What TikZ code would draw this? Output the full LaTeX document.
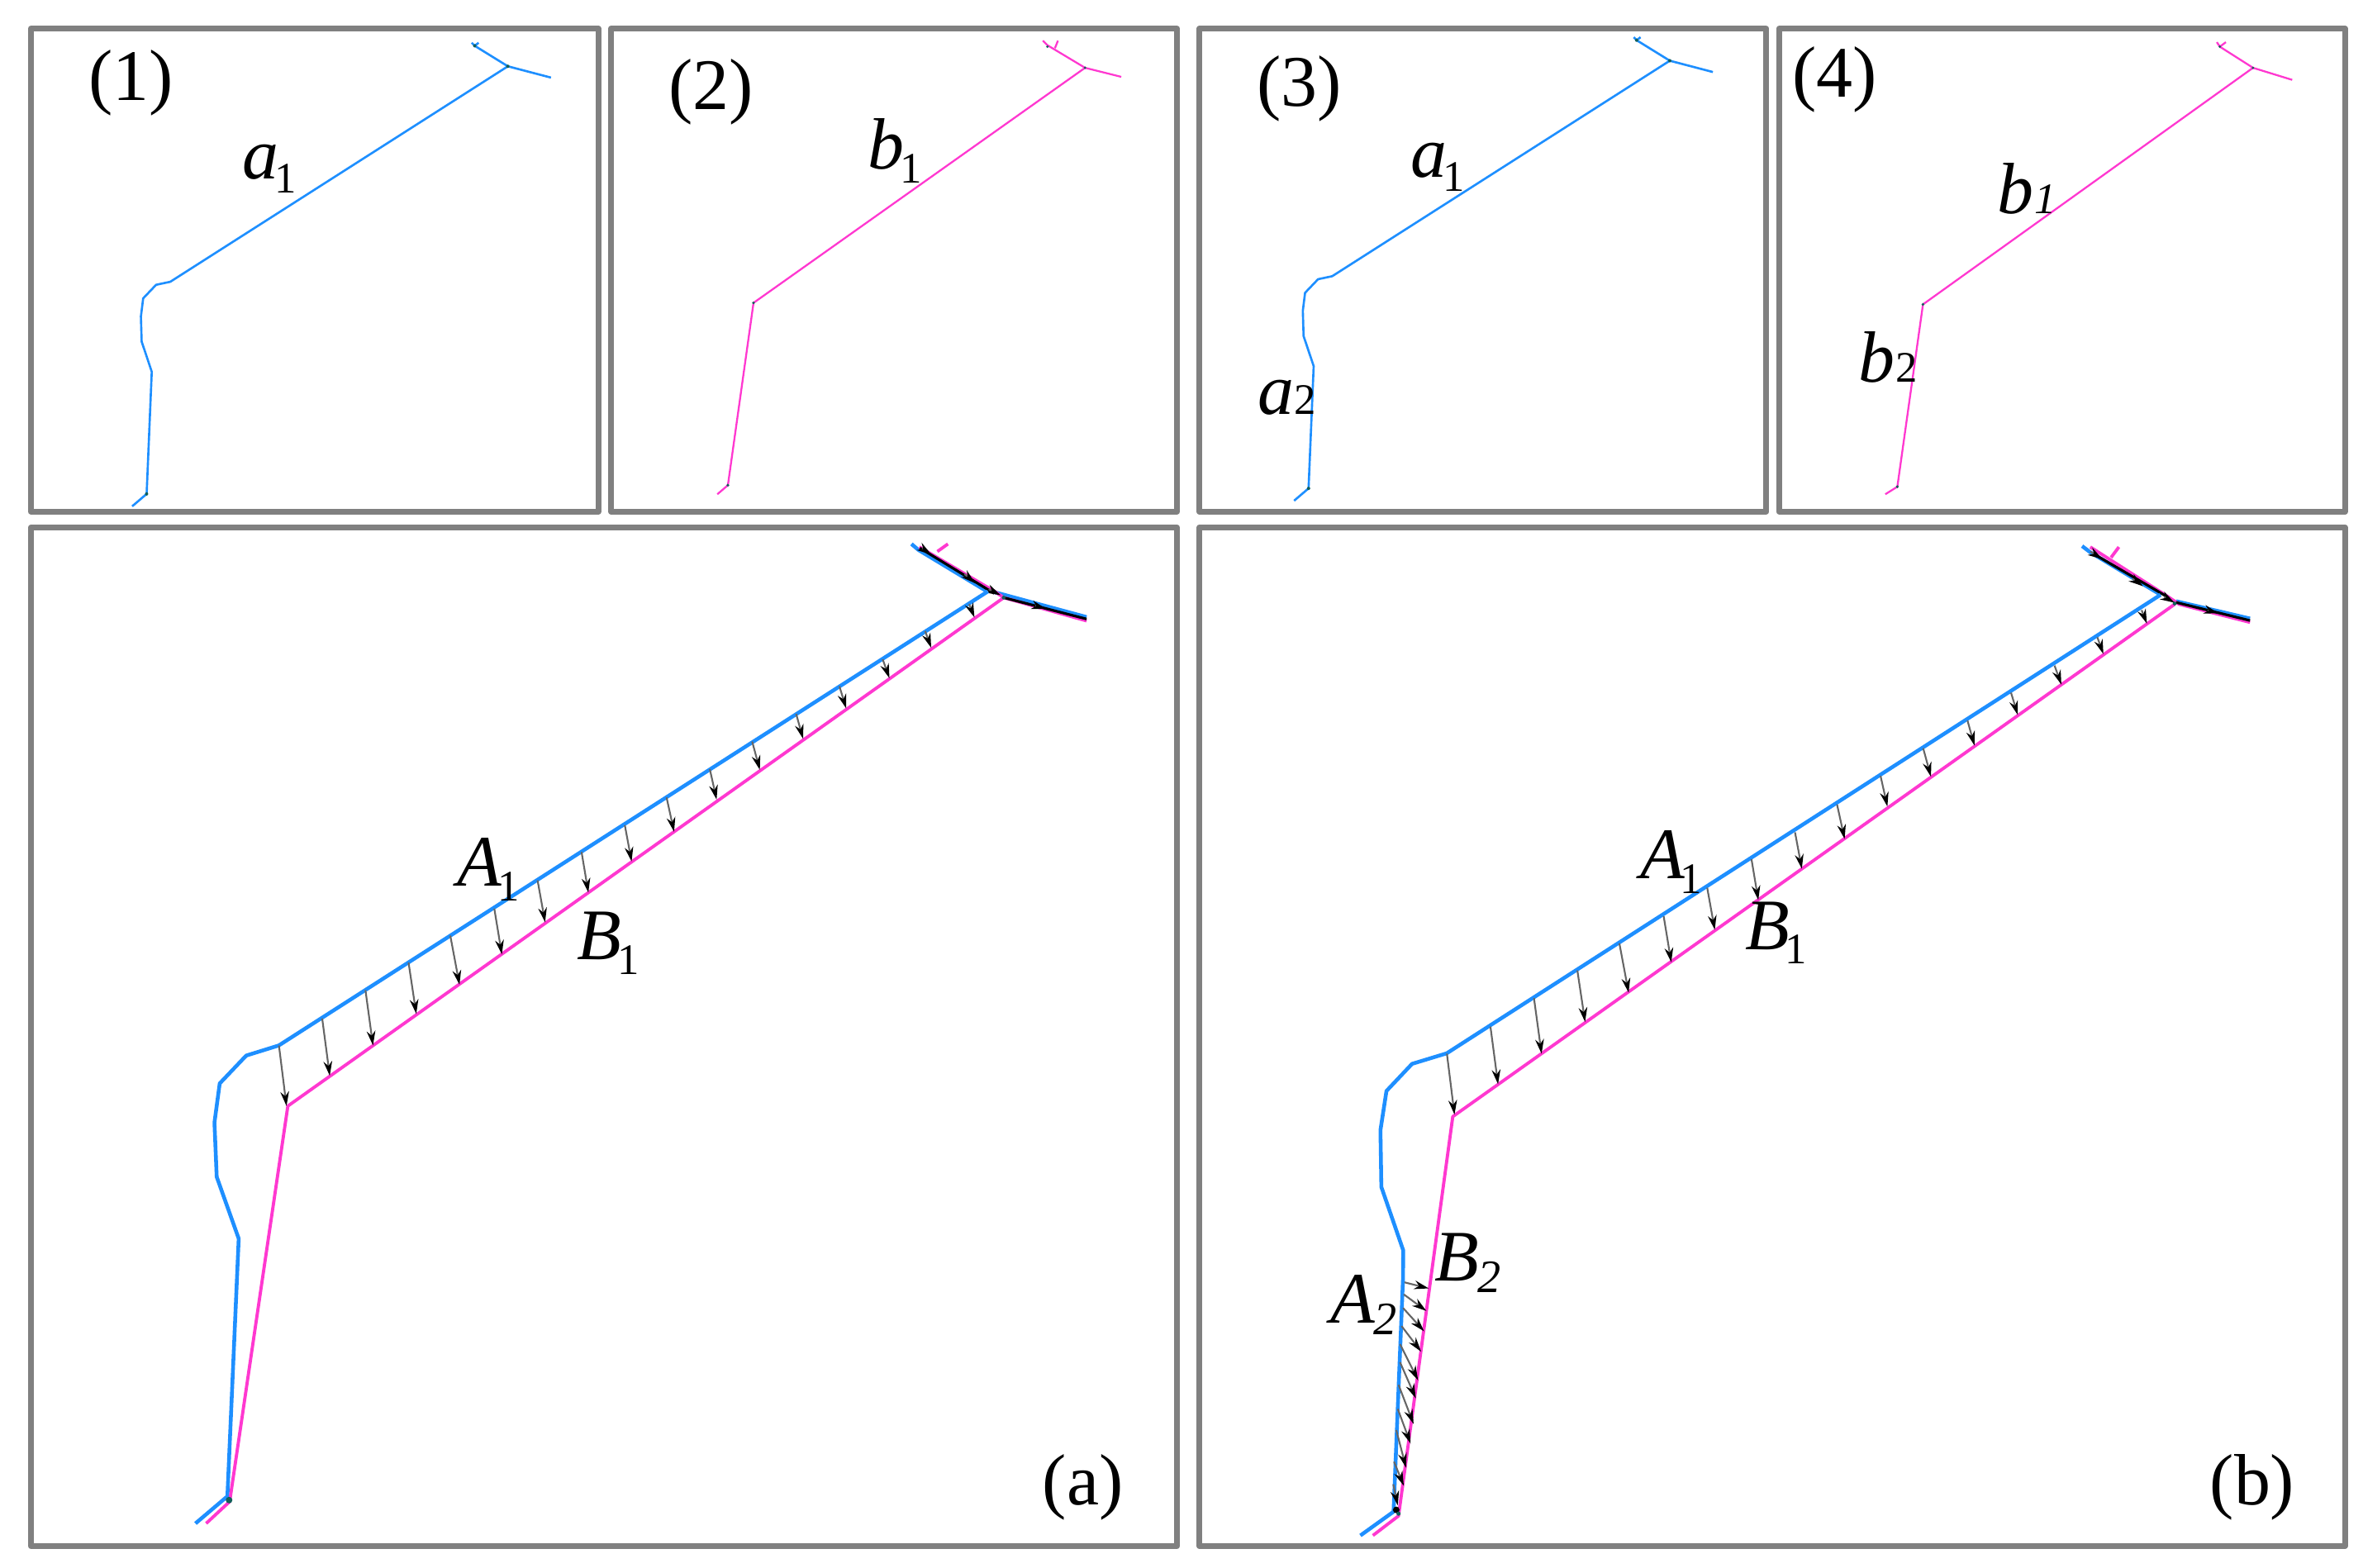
\documentclass[tikz,border=0pt]{standalone}
\usepackage{fontspec}
\setmainfont{Liberation Serif}
\usetikzlibrary{arrows.meta}
\definecolor{frameg}{HTML}{808080}
\definecolor{lineb}{HTML}{1E8FFF}
\definecolor{linem}{HTML}{FF38D0}
\definecolor{dotg}{HTML}{12605A}
\newcommand\lab[2]{\textit{#1}\kern-0.06em\raisebox{-0.2em}{\fontsize{15}{15}\selectfont #2}}
\newcommand\labup[2]{\textit{#1}\kern0.01em{\fontsize{15}{15}\selectfont #2}}
\newcommand\labit[2]{\textit{#1}\kern0.01em{\fontsize{15}{15}\selectfont\itshape #2}}
\newcommand\labcap[2]{\textit{#1}\kern-0.02em\raisebox{-0.16em}{\fontsize{16}{16}\selectfont\itshape #2}}
\newcommand\mainarrows{%
  \foreach \a/\b/\c/\d in {185.1/693.8/190.1/734,213.8/675.9/218.8/713.9,242.5/657.1/247.5/693.8,271.1/638.8/276.2/672.8,298.8/620.9/304.9/653.5,328/603/333/633.4,356.7/584.2/361.7/612,385.9/565.4/390.4/592.3,414.6/547.6/419.1/571.7,442.3/529.2/447.3/552,471/510.4/475.5/530.6,499.1/492.1/504.2/510.9,528.3/473.8/532.9/490.3,557/455.4/561.5/470.2,585.7/437.5/590.2/450.1,613.9/418.8/617.9/429.9,643.1/400.9/646.6/409.8}
    \draw[shaft] (\a,\b) -- (\c,\d);
}
\newcommand\blueone{%
\draw[thinb] (313,28.4) -- (315,30.4) -- (337,44) -- (365.6,51.5);
\draw[thinb] (317.6,28.4) -- (315,30.4);
\draw[thinb] (337,44) -- (113,187) -- (103.6,189) -- (95,198) -- (93.5,210) -- (94,226.7) -- (100.7,246.7) -- (97.3,327.8) -- (87.7,336);
\fill[dotp] (337,44) circle (1.1) (315,30.4) circle (1.1) (97.3,327.8) circle (1.1);
}
\tikzset{
  x=0.01824cm,y=-0.01824cm,
  panel/.style={draw=frameg,line width=2pt,line join=round},
  thinb/.style={draw=lineb,line width=0.75pt,line join=round},
  thinm/.style={draw=linem,line width=0.65pt,line join=round},
  bigb/.style={draw=lineb,line width=1.3pt,line join=round},
  bigm/.style={draw=linem,line width=1.1pt,line join=round},
  shaft/.style={draw=black!60,line width=0.6pt,-{Stealth[length=5pt,width=3pt,black]}},
  txt/.style={inner sep=0pt,font=\fontsize{25}{25}\selectfont,text=black},
  dotp/.style={fill=dotg,draw=none}
}
\begin{document}
\begin{tikzpicture}
\useasboundingbox (0,0) rectangle (1568,1040.06);
\fill[white] (0,0) rectangle (1568,1040.06);
% frames
\draw[panel] (20.5,19) rectangle (397,339.5);
\draw[panel] (405.5,19) rectangle (781,339.5);
\draw[panel] (796,19) rectangle (1172,339.5);
\draw[panel] (1180.5,19) rectangle (1556,339.5);
\draw[panel] (20.5,350) rectangle (781,1026);
\draw[panel] (796,350) rectangle (1556,1026);
% panel 1
\blueone
% panel 2
\draw[thinm] (692,27) -- (695,30) -- (720,45) -- (744,51);
\draw[thinm] (702,27) -- (700,32);
\draw[thinm] (720,45) -- (500,201) -- (483,322) -- (476,328);
\fill[dotp] (500,201) circle (1) (483,322) circle (1) (720,45) circle (0.9) (695,31) circle (0.9);
% panel 3
\begin{scope}[shift={(771,-3.7)}]\blueone\end{scope}
% panel 4
\draw[thinm] (1471,28) -- (1473,31) -- (1495,45) -- (1521,53);
\draw[thinm] (1477,28) -- (1473,31);
\draw[thinm] (1495,45) -- (1276,202) -- (1259,323) -- (1251,328);
\fill[dotp] (1276,202) circle (1) (1259,323) circle (1) (1473,31) circle (0.9) (1495,45) circle (0.9);
% panel a
\draw[bigb] (604.8,361) -- (609.5,365) -- (655,392.5);
\draw[bigb] (660,393) -- (721,409.5);
\draw[bigm] (629,361) -- (622,366);
\draw[bigm] (610,363) -- (660,392.5) -- (666,396.6) -- (721,412);
\draw[black,line width=0.9pt] (610.4,363.7) -- (659.7,393.8);
\draw[black,line width=0.9pt] (666,396.6) -- (721,410.8);
\foreach \a/\b/\c/\d in {612/364/618/368, 640/381/647/387, 656/391/664/395, 687/402/694/404}
  \draw[shaft] (\a,\b) -- (\c,\d);
\draw[bigb] (655.5,392.5) -- (185,693.8) -- (163.4,700.5) -- (145.8,719) -- (142.3,745) -- (143.8,781) -- (158.4,822) -- (150.9,993) -- (129.7,1011);
\draw[bigm] (665.5,397) -- (191,734) -- (152.4,996.5) -- (136.8,1011);
\fill[dotp] (152,995.5) circle (2.2);
\fill[dotp] (666,396.6) circle (1.3);
\mainarrows
% panel b
\draw[bigb] (1381.6,362.4) -- (1387,366.5) -- (1433.7,394.7);
\draw[bigb] (1444,399) -- (1493,410.5);
\draw[bigm] (1406,363) -- (1400.8,370);
\draw[bigm] (1387,363) -- (1438,395.6) -- (1446,401) -- (1493,413);
\draw[black,line width=0.9pt] (1391.7,369) -- (1438,396);
\draw[black,line width=0.9pt] (1444,399.8) -- (1493,411.8);
\foreach \a/\b/\c/\d in {1387/366/1395/371, 1415/384/1422/389, 1436/396/1443/400, 1465/405/1472/407}
  \draw[shaft] (\a,\b) -- (\c,\d);
\draw[bigb] (1433.7,394.7) -- (960,699) -- (937,706) -- (920,724) -- (916,750) -- (916.6,787.7) -- (931.1,829.7) -- (931,848) -- (924.7,1003.2) -- (902.7,1019);
\draw[bigm] (1443,401) -- (964,741) -- (928,1006) -- (911,1019);
\fill[dotp] (1443,400.5) circle (1.3);
\begin{scope}[shift={(773.8,2)},xscale=1.0065,yscale=1.005]\mainarrows\end{scope}
% lower arrows in (b)
\foreach \a/\b/\c/\d in {932/851/948/855,931.5/859/946.5/870,931/868/945/883.5,930/880/943/897,929/892/941/916,929/904/939.5/928,928/919/938/945,927.5/935/936/958,926.5/949/933/974,925/970/931.5/986,924.5/985/927.5/999}
  \draw[shaft] (\a,\b) -- (\c,\d);
\fill[black] (926.5,1002) circle (2.2);
\fill[dotg] (928,1004.5) circle (1.4);
% labels
\node[txt] (n1) at (87,55) {(1)};
\node[txt] (n2) at (472,61) {(2)};
\node[txt] (n3) at (862,59) {(3)};
\node[txt] (n4) at (1217.5,53) {(4)};
\node[txt] (na) at (718.5,987) {(a)};
\node[txt] (nb) at (1494.5,987) {(b)};
\node[txt] (a1a) at (179,112) {\lab{a}{1}};
\node[txt] (b1a) at (594,100) {\lab{b}{1}};
\node[txt] (a1b) at (954,111) {\lab{a}{1}};
\node[txt] (a2b) at (854,264) {\labup{a}{2}};
\node[txt] (b1b) at (1345,125) {\labit{b}{1}};
\node[txt] (b2b) at (1253,237) {\labup{b}{2}};
\node[txt] (A1a) at (324,577) {\lab{A}{1}};
\node[txt] (B1a) at (403.5,626) {\lab{B}{1}};
\node[txt] (A1b) at (1109,572) {\lab{A}{1}};
\node[txt] (B1b) at (1178.5,619) {\lab{B}{1}};
\node[txt] (A2b) at (905,866) {\labcap{A}{2}};
\node[txt] (B2b) at (974,838) {\labcap{B}{2}};
\end{tikzpicture}
\end{document}
